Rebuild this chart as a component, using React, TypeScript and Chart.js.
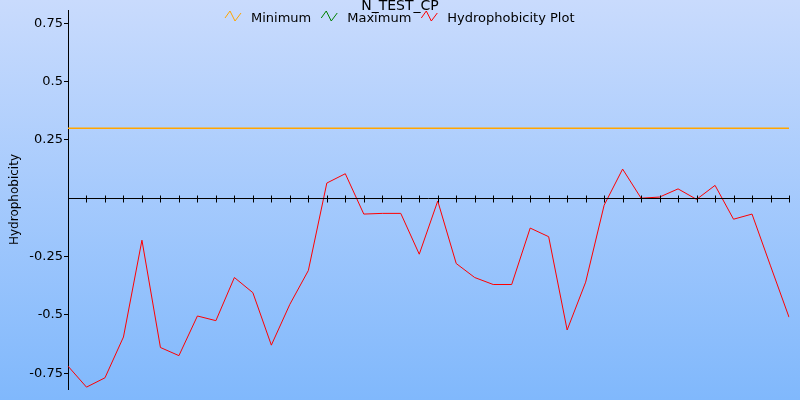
import React, { useEffect, useRef } from "react";
import { Chart, registerables } from "chart.js";

Chart.register(...registerables);

const chartTitle = "N_TEST_CP";
const yAxisTitle = "Hydrophobicity";
const positions = Array.from({ length: 40 }, (_, i) => String(i + 1));
const hydrophobicity = [
  -0.72, -0.81, -0.77, -0.595, -0.18, -0.64, -0.675, -0.505, -0.525, -0.34,
  -0.405, -0.63, -0.455, -0.31, 0.065, 0.105, -0.068, -0.065, -0.065, -0.24,
  -0.012, -0.28, -0.34, -0.37, -0.37, -0.128, -0.165, -0.565, -0.36, -0.03,
  0.125, 0.0, 0.005, 0.04, -0.005, 0.055, -0.09, -0.068, -0.29, -0.51,
];
const minimumValue = 0.3;
const minimumSeries = positions.map(() => minimumValue);
const maximumSeries: number[] = [];
const yTickValues = [-0.75, -0.5, -0.25, 0.25, 0.5, 0.75];
const yMin = -0.818;
const yMax = 0.807;

const FONT = "'DejaVu Sans', Verdana, sans-serif";

const legendItems = [
  { label: "Minimum", color: "#ffa500" },
  { label: "Maximum", color: "#008000" },
  { label: "Hydrophobicity Plot", color: "#ff0000" },
];

const decorPlugin = {
  id: "decor",
  beforeDraw(chart: any) {
    const { ctx, width, height } = chart;
    const g = ctx.createLinearGradient(0, 0, 0, height);
    g.addColorStop(0, "#c9dbfd");
    g.addColorStop(1, "#80b8fc");
    ctx.save();
    ctx.fillStyle = g;
    ctx.fillRect(0, 0, width, height);
    ctx.restore();
  },
  afterDatasetsDraw(chart: any) {
    const { ctx, chartArea } = chart;
    const xs = chart.scales.x;
    const ys = chart.scales.y;
    const y0 = Math.round(ys.getPixelForValue(0)) + 0.5;
    ctx.save();
    ctx.strokeStyle = "#000";
    ctx.lineWidth = 1;
    ctx.beginPath();
    ctx.moveTo(chartArea.left, y0);
    ctx.lineTo(chartArea.right, y0);
    for (let i = 1; i < positions.length; i++) {
      const x = Math.round(xs.getPixelForValue(i)) + 0.5;
      ctx.moveTo(x, y0 - 3);
      ctx.lineTo(x, y0 + 4);
    }
    ctx.stroke();
    ctx.restore();
  },
  afterDraw(chart: any) {
    const { ctx, width } = chart;
    ctx.save();
    ctx.fillStyle = "#000";
    ctx.textBaseline = "alphabetic";
    ctx.textAlign = "center";
    ctx.font = `14px ${FONT}`;
    ctx.fillText(chartTitle, width / 2, 10);

    ctx.font = `13px ${FONT}`;
    const iconW = 16;
    const gap = 10;
    const widths = legendItems.map((it) => ctx.measureText(it.label).width);
    let total = 0;
    widths.forEach((w, i) => {
      total += iconW + gap + w + (i < widths.length - 1 ? gap : 0);
    });
    let x = Math.round(width / 2 - total / 2);
    ctx.textAlign = "left";
    legendItems.forEach((it, i) => {
      ctx.strokeStyle = it.color;
      ctx.lineWidth = 1;
      ctx.beginPath();
      ctx.moveTo(x, 18);
      ctx.lineTo(x + 5, 11);
      ctx.lineTo(x + 10, 21);
      ctx.lineTo(x + 16, 13);
      ctx.stroke();
      ctx.fillStyle = "#000";
      ctx.fillText(it.label, x + iconW + gap, 22);
      x += iconW + gap + widths[i] + gap;
    });
    ctx.restore();
  },
};

export default function App() {
  const ref = useRef<HTMLCanvasElement | null>(null);
  useEffect(() => {
    if (!ref.current) return;
    const chart = new Chart(ref.current, {
      type: "line",
      data: {
        labels: positions,
        datasets: [
          {
            label: "Minimum",
            data: minimumSeries,
            borderColor: "#ffa500",
            borderWidth: 1.5,
            pointRadius: 0,
            tension: 0,
          },
          {
            label: "Maximum",
            data: maximumSeries,
            borderColor: "#008000",
            borderWidth: 1,
            pointRadius: 0,
            tension: 0,
          },
          {
            label: "Hydrophobicity Plot",
            data: hydrophobicity,
            borderColor: "#ff0000",
            borderWidth: 1,
            pointRadius: 0,
            tension: 0,
          },
        ],
      },
      options: {
        responsive: false,
        animation: false,
        devicePixelRatio: 1,
        layout: { padding: { top: 10, bottom: 11, right: 11, left: 0 } },
        plugins: {
          legend: { display: false },
          title: { display: false },
          tooltip: { enabled: false },
        },
        scales: {
          x: {
            display: false,
            offset: false,
          },
          y: {
            min: yMin,
            max: yMax,
            afterBuildTicks: (s: any) => {
              s.ticks = yTickValues.map((v) => ({ value: v }));
            },
            afterFit: (s: any) => {
              s.width = 68;
            },
            ticks: {
              color: "#000",
              font: { family: FONT, size: 13 },
              padding: 1,
              callback: (v: any) => String(v),
            },
            grid: {
              drawOnChartArea: false,
              drawTicks: true,
              tickLength: 4,
              color: "#000",
            },
            border: { color: "#000", width: 1 },
            title: {
              display: true,
              text: yAxisTitle,
              color: "#000",
              font: { family: FONT, size: 12 },
              padding: { top: 8, bottom: 0 },
            },
          },
        },
      },
      plugins: [decorPlugin],
    });
    return () => chart.destroy();
  }, []);
  return (
    <div style={{ position: "fixed", left: 0, top: 0, width: 800, height: 400 }}>
      <canvas ref={ref} width={800} height={400} style={{ display: "block" }} />
    </div>
  );
}
